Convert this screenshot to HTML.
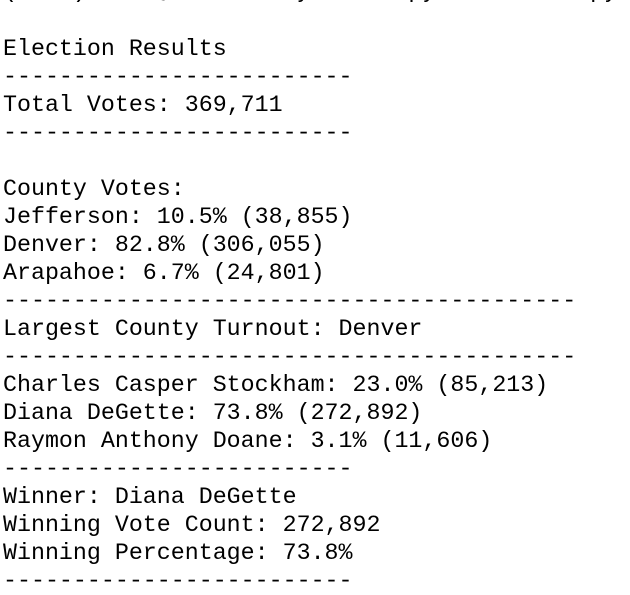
<!DOCTYPE html>
<html><head><meta charset="utf-8"><style>
html,body{margin:0;padding:0;background:#fff;width:630px;height:590px;overflow:hidden}
pre{position:absolute;left:3px;top:-21px;width:627px;overflow:hidden;margin:0;font-family:"Liberation Mono",monospace;font-size:23.3px;line-height:28px;color:#000}
.top{position:relative;top:-2px}
</style></head><body>
<pre><span class="top">(base) user@MacBook PyPoll % python3 main.py</span>

Election Results
-------------------------
Total Votes: 369,711
-------------------------

County Votes:
Jefferson: 10.5% (38,855)
Denver: 82.8% (306,055)
Arapahoe: 6.7% (24,801)
-----------------------------------------
Largest County Turnout: Denver
-----------------------------------------
Charles Casper Stockham: 23.0% (85,213)
Diana DeGette: 73.8% (272,892)
Raymon Anthony Doane: 3.1% (11,606)
-------------------------
Winner: Diana DeGette
Winning Vote Count: 272,892
Winning Percentage: 73.8%
-------------------------</pre>
</body></html>
